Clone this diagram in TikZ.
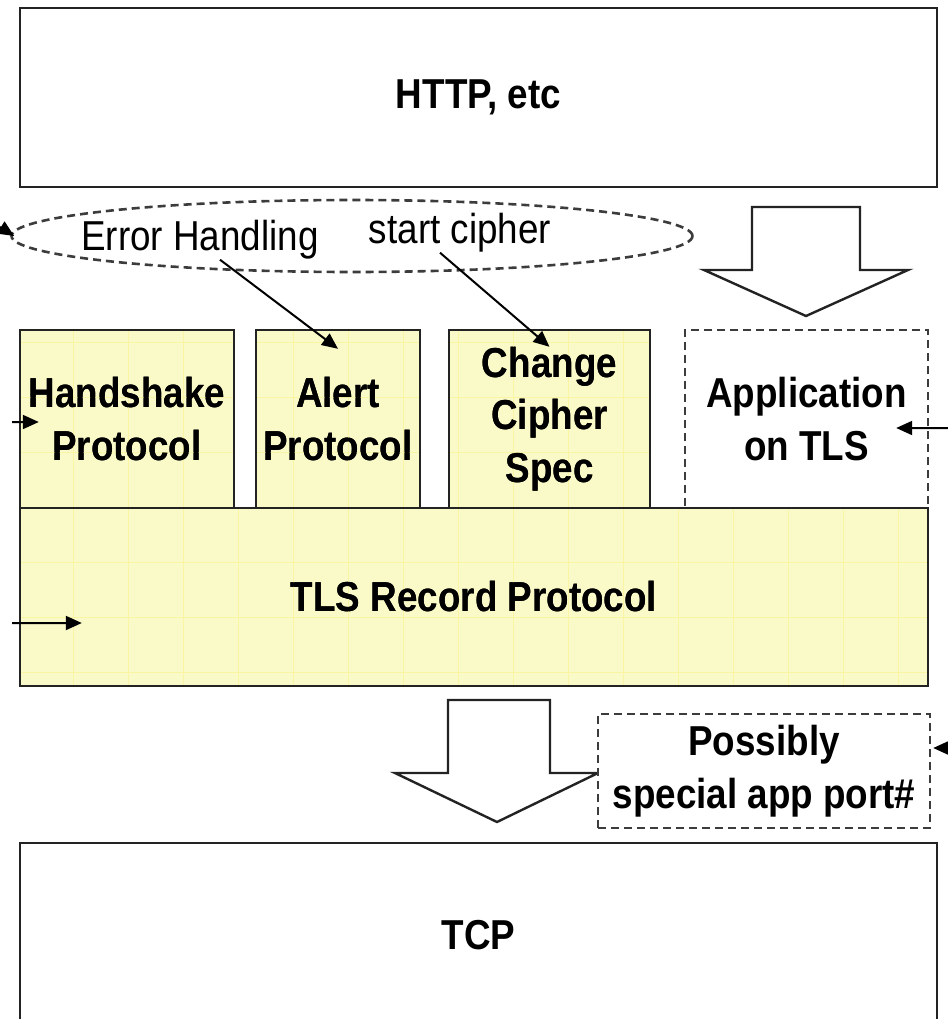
\documentclass[tikz,border=0pt]{standalone}
\usepackage{fontspec}
\setmainfont{Liberation Sans}[FakeStretch=0.88]
\usetikzlibrary{arrows.meta,positioning,shapes.geometric}
\definecolor{paleyellow}{RGB}{250,249,200}
\definecolor{gridyellow}{RGB}{250,245,165}
\definecolor{boxline}{RGB}{35,35,35}
\definecolor{dashline}{RGB}{60,60,60}
\tikzset{
  layer/.style={draw=boxline,line width=2.4bp,inner sep=0pt,
    font=\fontsize{42}{53}\selectfont\bfseries,align=center},
  yellowlayer/.style={layer,fill=paleyellow},
  dashlayer/.style={layer,draw=dashline,dash pattern=on 8bp off 5bp,fill=white},
  note/.style={inner sep=0pt,font=\fontsize{42}{53}\selectfont},
  pointer/.style={-{Triangle[length=16bp,width=14bp]},line width=2bp,black},
  blockarrow/.style={draw=boxline,line width=2.4bp,fill=white,line join=miter}
}
\begin{document}
\begin{tikzpicture}[x=1bp,y=-1bp]
\useasboundingbox (0,0) rectangle (948,1019);
\clip (0,0) rectangle (948,1019);

\node[layer,minimum width=917bp,minimum height=179bp] (http) at (478.5,97.5) {HTTP, etc};

\node[ellipse,draw=dashline,line width=2.6bp,dash pattern=on 8bp off 5bp,
      minimum width=681bp,minimum height=72bp] (eh) at (352,236) {};
\node[note] (err) at (200,240) {Error Handling};
\node[note] (cipher) at (460,233) {start cipher};

\draw[blockarrow] (752,207) -- (860,207) -- (860,270) -- (908,270)
  -- (806,316) -- (704,270) -- (752,270) -- cycle;

\node[yellowlayer,minimum width=214bp,minimum height=178bp] (hs) at (127,419) {Handshake\\Protocol};
\node[yellowlayer,minimum width=164bp,minimum height=178bp] (alert) at (338,419) {Alert\\Protocol};
\node[yellowlayer,minimum width=201bp,minimum height=178bp] (ccs) at (549.5,419) {Change\\Cipher\\Spec};
\node[dashlayer,minimum width=243bp,minimum height=178bp] (app) at (806.5,419) {Application\\on TLS};
\node[yellowlayer,minimum width=908bp,minimum height=178bp] (rec) at (474,597) {TLS Record Protocol};

\begin{scope}
\clip ([shift={(1bp,1bp)}]hs.south west) rectangle ([shift={(-1bp,-1bp)}]hs.north east)
      ([shift={(1bp,1bp)}]alert.south west) rectangle ([shift={(-1bp,-1bp)}]alert.north east)
      ([shift={(1bp,1bp)}]ccs.south west) rectangle ([shift={(-1bp,-1bp)}]ccs.north east)
      ([shift={(1bp,1bp)}]rec.south west) rectangle ([shift={(-1bp,-1bp)}]rec.north east);
\foreach \gx in {18,73,...,928}
  \draw[gridyellow,line width=1bp] (\gx,320) -- (\gx,700);
\foreach \gy in {342,397,...,672}
  \draw[gridyellow,line width=1bp] (0,\gy) -- (948,\gy);
\end{scope}
\node[yellowlayer,fill=none,minimum width=214bp,minimum height=178bp] at (hs) {Handshake\\Protocol};
\node[yellowlayer,fill=none,minimum width=164bp,minimum height=178bp] at (alert) {Alert\\Protocol};
\node[yellowlayer,fill=none,minimum width=201bp,minimum height=178bp] at (ccs) {Change\\Cipher\\Spec};
\node[yellowlayer,fill=none,minimum width=908bp,minimum height=178bp] at (rec) {TLS Record Protocol};

\draw[blockarrow] (448,700) -- (550,700) -- (550,773) -- (598,773)
  -- (497,822) -- (395,773) -- (448,773) -- cycle;

\node[dashlayer,minimum width=332bp,minimum height=114bp] (port) at (764,771) {Possibly\\special app port\#};

\node[layer,minimum width=917bp,minimum height=184bp] (tcp) at (478.5,935) {TCP};

\coordinate (ehin) at (0,227);
\coordinate (hsin) at (12,422);
\coordinate (recin) at (12,623);
\coordinate (appin) at (948,428);
\coordinate (portin) at (948,748);

\draw[pointer] ([xshift=20bp]err.south) -- ([yshift=-20bp]alert.north);
\draw[pointer] ([xshift=-20bp]cipher.south) -- ([yshift=-18bp]ccs.north);
\draw[pointer] (ehin) -- ([xshift=4bp]eh.west);
\draw[pointer] (hsin) -- ([shift={(20bp,-3bp)}]hs.west);
\draw[pointer] (recin) -- ([shift={(63bp,-26bp)}]rec.west);
\draw[pointer] (appin) -- ([shift={(-33bp,-9bp)}]app.east);
\draw[pointer] (portin) -- ([shift={(2bp,23bp)}]port.east);
\end{tikzpicture}
\end{document}
